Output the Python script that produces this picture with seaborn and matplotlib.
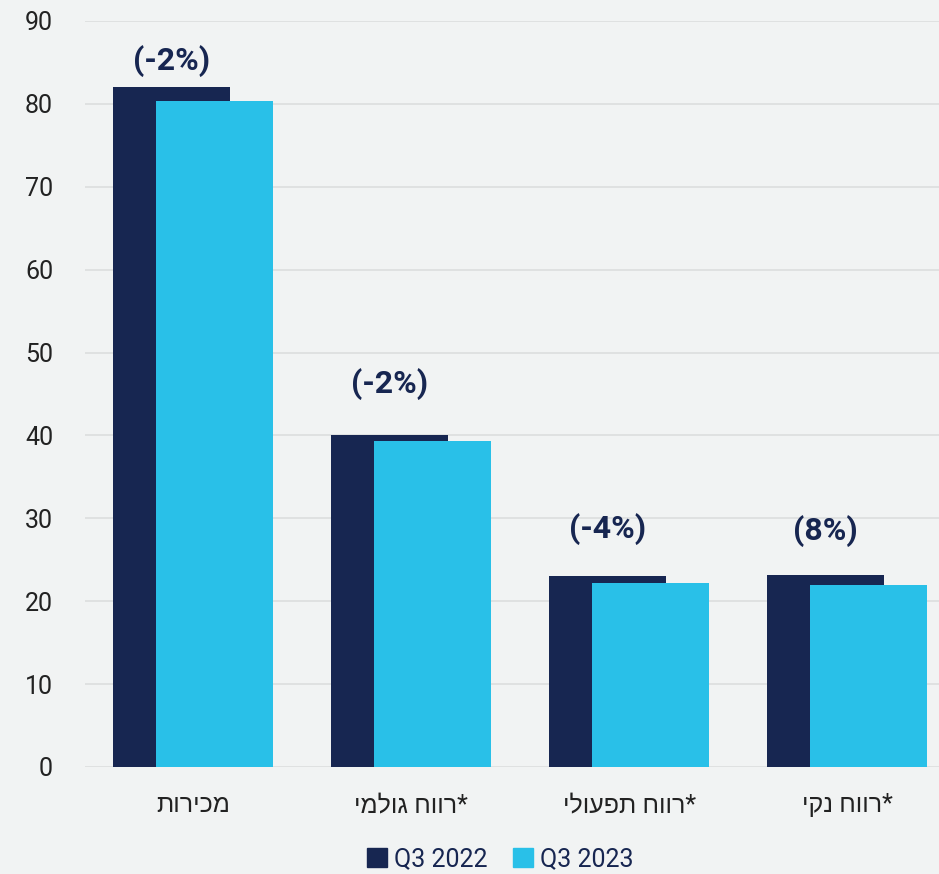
import matplotlib
matplotlib.use('Agg')
import matplotlib.pyplot as plt
from matplotlib.patches import Patch
import seaborn as sns
import pandas as pd

# נתונים
categories = ['מכירות', '*רווח גולמי', '*רווח תפעולי', '*רווח נקי']
q3_2022 = [82.0, 40.0, 23.1, 23.2]
q3_2023 = [80.3, 39.3, 22.2, 21.9]
changes = ['(-2%)', '(-2%)', '(-4%)', '(8%)']
series = ['Q3 2022', 'Q3 2023']

NAVY = '#172651'
CYAN = '#29c0e8'
BG = '#f1f3f3'
GRID = '#dcdede'

sns.set_theme(style='white')
plt.rcParams['font.family'] = ['Roboto', 'Liberation Sans', 'DejaVu Sans']


def rtl(s):
    # matplotlib has no bidi support -> reverse hebrew for display
    return s[::-1]


df = pd.DataFrame({'cat': [rtl(c) for c in categories],
                   'q22': q3_2022, 'q23': q3_2023})

fig = plt.figure(figsize=(9.39, 8.74), dpi=100, facecolor=BG)
ax = fig.add_axes([85 / 939, 1 - 767 / 874, 1 - 85 / 939, (767 - 21) / 874])
ax.set_facecolor(BG)

W = 0.537
SHIFT = 0.0986
sns.barplot(data=df, x='cat', y='q22', color=NAVY, width=W, saturation=1,
            ax=ax, zorder=2)
n = len(ax.patches)
sns.barplot(data=df, x='cat', y='q23', color=CYAN, width=W, saturation=1,
            ax=ax, zorder=3)
for i, p in enumerate(ax.patches):
    p.set_x(p.get_x() + (-SHIFT if i < n else SHIFT))
    p.set_linewidth(0)

# percent change labels above the 2022 bars
label_pad_px = [26, 51, 47, 44]
for i, (v, lab) in enumerate(zip(q3_2022, changes)):
    ax.annotate(lab, (i - SHIFT, v), xytext=(0, label_pad_px[i] * 0.72),
                textcoords='offset points', ha='center', va='center',
                fontsize=23, fontweight='bold', color=NAVY, zorder=5)

ax.set_ylim(0, 90)
ax.set_xlim(-0.495, 3.42)
ax.set_yticks(range(0, 91, 10))
ax.set_xlabel('')
ax.set_ylabel('')
ax.yaxis.grid(True, color=GRID, linewidth=1.2)
ax.set_axisbelow(True)
for s in ax.spines.values():
    s.set_visible(False)
ax.tick_params(axis='y', length=0, pad=23, labelsize=18, labelcolor='#222222')
ax.tick_params(axis='x', length=0, pad=19, labelsize=18, labelcolor='#222222')

handles = [Patch(color=NAVY), Patch(color=CYAN)]
fig.legend(handles, series, loc='center', bbox_to_anchor=(500 / 939, 1 - 859 / 874),
           ncol=2, frameon=False, fontsize=18, labelcolor=NAVY,
           handlelength=0.8, handleheight=0.8, handletextpad=0.3,
           columnspacing=1.0)

fig.savefig('out.png', dpi=100, facecolor=BG)
